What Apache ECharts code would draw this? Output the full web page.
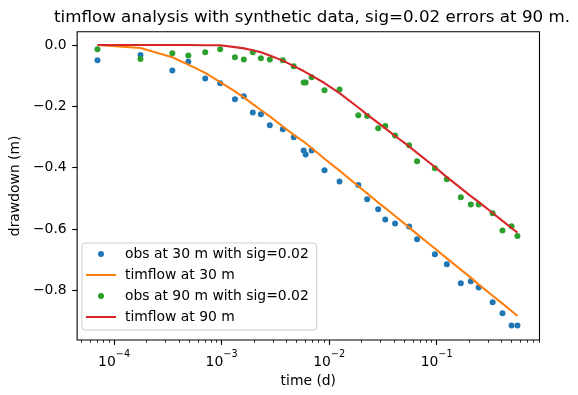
<!DOCTYPE html>
<html>
<head>
<meta charset="utf-8">
<script src="https://cdn.jsdelivr.net/npm/echarts@6/dist/echarts.min.js"></script>
<style>html,body{margin:0;padding:0;background:#fff;}#c{width:578px;height:395px;}</style>
</head>
<body>
<div id="c"></div>
<script>
// observation times (d)
var times = [7.0e-5, 1.76e-4, 3.48e-4, 4.90e-4, 7.04e-4, 9.7e-4, 1.33e-3, 1.61e-3, 1.95e-3, 2.32e-3,
  2.81e-3, 3.71e-3, 4.69e-3, 5.80e-3, 6.05e-3, 6.88e-3, 9.06e-3, 1.25e-2, 1.87e-2, 2.26e-2,
  2.86e-2, 3.33e-2, 4.11e-2, 5.55e-2, 6.58e-2, 9.64e-2, 0.1245, 0.168, 0.208, 0.246,
  0.332, 0.410, 0.498, 0.565];
// drawdown observations at 30 m
var obs30 = [-0.050, -0.033, -0.083, -0.055, -0.109, -0.125, -0.177, -0.167, -0.220, -0.226,
  -0.262, -0.275, -0.301, -0.344, -0.357, -0.344, -0.409, -0.445, -0.457, -0.503,
  -0.536, -0.569, -0.582, -0.592, -0.634, -0.683, -0.715, -0.777, -0.771, -0.791,
  -0.839, -0.875, -0.915, -0.915];
// timflow model at 30 m
var sim30 = [-0.000, -0.010, -0.040, -0.064, -0.091, -0.121, -0.151, -0.171, -0.193, -0.212,
  -0.233, -0.266, -0.293, -0.315, -0.320, -0.336, -0.371, -0.410, -0.461, -0.484,
  -0.514, -0.532, -0.558, -0.595, -0.617, -0.664, -0.696, -0.733, -0.759, -0.781,
  -0.818, -0.844, -0.868, -0.884];
// drawdown observations at 90 m
var obs90 = [-0.014, -0.046, -0.027, -0.034, -0.024, -0.014, -0.040, -0.047, -0.024, -0.043,
  -0.047, -0.050, -0.069, -0.122, -0.122, -0.105, -0.148, -0.145, -0.229, -0.232,
  -0.272, -0.264, -0.295, -0.327, -0.379, -0.402, -0.438, -0.497, -0.520, -0.520,
  -0.549, -0.605, -0.591, -0.623];
// timflow model at 90 m
var sim90 = [-0.000, -0.000, -0.000, -0.000, -0.001, -0.001, -0.007, -0.011, -0.017, -0.024,
  -0.034, -0.051, -0.069, -0.085, -0.089, -0.100, -0.124, -0.157, -0.204, -0.227,
  -0.254, -0.272, -0.297, -0.331, -0.352, -0.398, -0.431, -0.467, -0.493, -0.512,
  -0.548, -0.574, -0.597, -0.612];
var xMajorTicks = [1e-4, 1e-3, 1e-2, 1e-1];
var xMinorTicks = [];
[-5, -4, -3, -2, -1].forEach(function (e) {
  for (var k = 2; k <= 9; k++) {
    var v = k * Math.pow(10, e);
    if (v > 4.53e-5 && v < 0.906) xMinorTicks.push(v);
  }
});
var yTicks = [0, -0.2, -0.4, -0.6, -0.8];
var seriesNames = ['obs at 30 m with sig=0.02', 'timflow at 30 m', 'obs at 90 m with sig=0.02', 'timflow at 90 m'];

function pairs(ys) { return times.map(function (t, i) { return [t, ys[i]]; }); }
var FONT = 'DejaVu Sans';
var chart = echarts.init(document.getElementById('c'), null, {renderer: 'canvas'});
chart.setOption({
  animation: false,
  backgroundColor: '#fff',
  title: {
    text: 'timflow analysis with synthetic data, sig=0.02 errors at 90 m.',
    left: 307, top: 4, textAlign: 'center',
    textStyle: {fontFamily: FONT, fontSize: 16.7, fontWeight: 'normal', color: '#000'}
  },
  grid: {left: 74.5, right: 38.5, top: 31.7, bottom: 55, show: true, borderColor: '#000', borderWidth: 1.1, backgroundColor: 'transparent'},
  legend: {
    orient: 'vertical', left: 82, top: 243,
    itemWidth: 30, itemHeight: 6, itemGap: 7,
    padding: [4, 8, 6, 3],
    backgroundColor: 'rgba(255,255,255,0.8)', borderColor: '#cccccc', borderWidth: 1, borderRadius: 3,
    textStyle: {fontFamily: FONT, fontSize: 13.9, color: '#000', lineHeight: 14, padding: [0, 0, 0, 4]},
    data: [
      {name: seriesNames[0]},
      {name: seriesNames[1], itemStyle: {opacity: 0, borderWidth: 0}},
      {name: seriesNames[2]},
      {name: seriesNames[3], itemStyle: {opacity: 0, borderWidth: 0}}
    ]
  },
  xAxis: [{
    type: 'log', min: 4.53e-5, max: 0.906, logBase: 10, position: 'bottom',
    name: 'time (d)', nameLocation: 'middle', nameGap: 27,
    nameTextStyle: {fontFamily: FONT, fontSize: 13.9, color: '#000'},
    axisLine: {show: false, onZero: false},
    splitLine: {show: false},
    axisTick: {show: true, length: 4.9, lineStyle: {color: '#000', width: 1.1}, customValues: xMajorTicks},
    axisLabel: {
      customValues: xMajorTicks, margin: 9,
      formatter: function (v) { var e = Math.round(Math.log10(v)); return '{b|10}{s|\u2212' + Math.abs(e) + '}'; },
      rich: {
        b: {fontFamily: FONT, fontSize: 13.9, color: '#000', verticalAlign: 'bottom', lineHeight: 20},
        s: {fontFamily: FONT, fontSize: 9.7, color: '#000', verticalAlign: 'top', lineHeight: 12}
      }
    }
  }, {
    type: 'log', min: 4.53e-5, max: 0.906, logBase: 10, position: 'bottom',
    axisLine: {show: false, onZero: false}, splitLine: {show: false}, axisLabel: {show: false},
    axisTick: {show: true, length: 2.8, lineStyle: {color: '#000', width: 0.8}, customValues: xMinorTicks}
  }],
  yAxis: {
    type: 'value', min: -0.9625, max: 0.0434,
    name: 'drawdown (m)', nameLocation: 'middle', nameGap: 50, nameRotate: 90,
    nameTextStyle: {fontFamily: FONT, fontSize: 13.9, color: '#000'},
    axisLine: {show: false, onZero: false}, splitLine: {show: false},
    axisTick: {show: true, length: 4.9, lineStyle: {color: '#000', width: 1.1}, customValues: yTicks},
    axisLabel: {
      customValues: yTicks, margin: 10.5,
      fontFamily: FONT, fontSize: 13.9, color: '#000',
      formatter: function (v) { var s = Math.abs(v).toFixed(1); return (v < -1e-9 ? '\u2212' : '') + s; }
    }
  },
  series: [{
    name: seriesNames[0], type: 'scatter', data: pairs(obs30), symbolSize: 6,
    itemStyle: {color: '#1f77b4', opacity: 1}, z: 2
  }, {
    name: seriesNames[1], type: 'line', data: pairs(sim30), symbol: 'none',
    lineStyle: {color: '#ff7f0e', width: 2.1}, itemStyle: {color: '#ff7f0e'}, z: 3
  }, {
    name: seriesNames[2], type: 'scatter', data: pairs(obs90), symbolSize: 6,
    itemStyle: {color: '#2ca02c', opacity: 1}, z: 4
  }, {
    name: seriesNames[3], type: 'line', data: pairs(sim90), symbol: 'none',
    lineStyle: {color: '#d62728', width: 2.1}, itemStyle: {color: '#d62728'}, z: 5
  }]
});
</script>
</body>
</html>
